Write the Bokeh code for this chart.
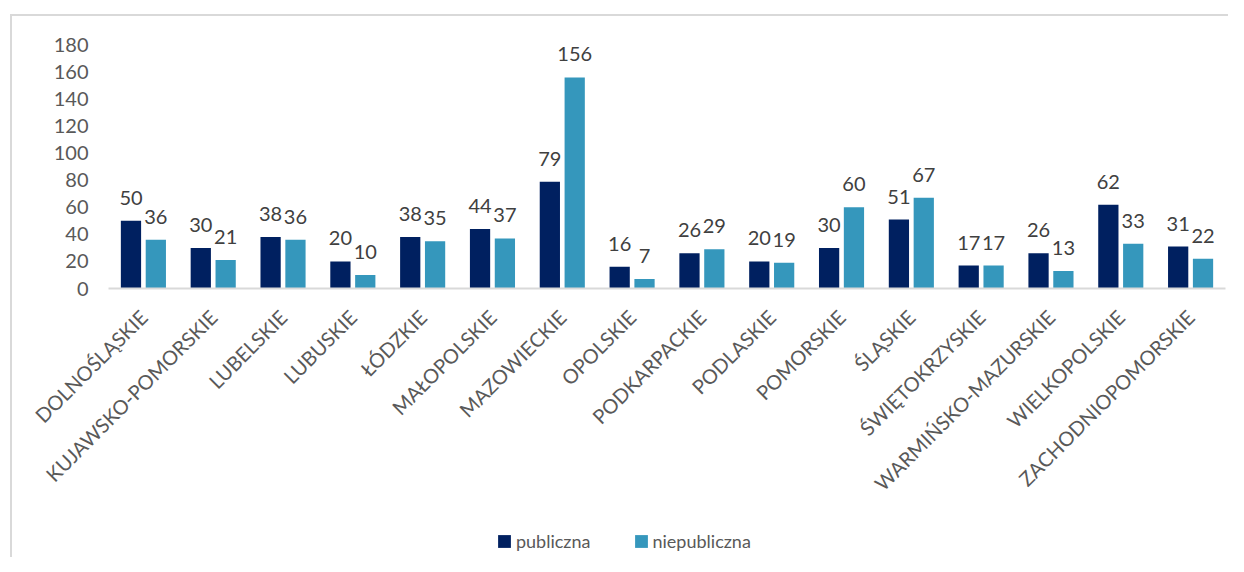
import math
from bokeh.plotting import figure
from bokeh.layouts import column, row
from bokeh.models import (ColumnDataSource, Range1d, FactorRange, Legend, LegendItem,
                          FixedTicker, Spacer)
from bokeh.transform import dodge
from bokeh.core.properties import value
from bokeh.embed import file_html
from bokeh.resources import INLINE

regions = ["DOLNOŚLĄSKIE", "KUJAWSKO-POMORSKIE", "LUBELSKIE", "LUBUSKIE", "ŁÓDZKIE",
           "MAŁOPOLSKIE", "MAZOWIECKIE", "OPOLSKIE", "PODKARPACKIE", "PODLASKIE",
           "POMORSKIE", "ŚLĄSKIE", "ŚWIĘTOKRZYSKIE", "WARMIŃSKO-MAZURSKIE",
           "WIELKOPOLSKIE", "ZACHODNIOPOMORSKIE"]
publiczna = [50, 30, 38, 20, 38, 44, 79, 16, 26, 20, 30, 51, 17, 26, 62, 31]
niepubliczna = [36, 21, 36, 10, 35, 37, 156, 7, 29, 19, 60, 67, 17, 13, 33, 22]
series_names = ["publiczna", "niepubliczna"]
y_ticks = [0, 20, 40, 60, 80, 100, 120, 140, 160, 180]

DARK = "#002060"
LIGHT = "#3597BC"
FONT = "Lato"
OFF = 0.178
BW = 0.29

src = ColumnDataSource(dict(
    region=regions,
    pub=publiczna,
    niepub=niepubliczna,
    pub_lbl=[str(v) for v in publiczna],
    niepub_lbl=[str(v) for v in niepubliczna],
))

p = figure(x_range=FactorRange(*regions, range_padding=0, factor_padding=0),
           y_range=Range1d(0, 190),
           width=1216, height=497,
           output_backend="svg", toolbar_location=None,
           min_border_left=96, min_border_right=3,
           min_border_top=15, min_border_bottom=225)

r1 = p.vbar(x=dodge("region", -OFF, range=p.x_range), top="pub", width=BW,
            source=src, fill_color=DARK, line_color=None)
r2 = p.vbar(x=dodge("region", OFF, range=p.x_range), top="niepub", width=BW,
            source=src, fill_color=LIGHT, line_color=None)

p.text(x=dodge("region", -OFF, range=p.x_range), y="pub", text="pub_lbl", source=src,
       text_align="center", text_baseline="middle", y_offset=-23,
       text_font=value(FONT), text_font_size="20px", text_color="#404040")
p.text(x=dodge("region", OFF, range=p.x_range), y="niepub", text="niepub_lbl", source=src,
       text_align="center", text_baseline="middle", y_offset=-23,
       text_font=value(FONT), text_font_size="20px", text_color="#404040")

p.grid.visible = False
p.outline_line_color = None

p.yaxis.ticker = FixedTicker(ticks=y_ticks)
p.yaxis.axis_line_color = None
p.yaxis.major_tick_line_color = None
p.yaxis.minor_tick_line_color = None
p.yaxis.major_tick_out = 0
p.yaxis.major_label_standoff = 20
p.yaxis.major_label_text_font = FONT
p.yaxis.major_label_text_font_size = "20px"
p.yaxis.major_label_text_color = "#595959"

p.xaxis.axis_line_color = "#d9d9d9"
p.xaxis.axis_line_width = 2
p.xaxis.major_tick_line_color = None
p.xaxis.major_tick_out = 0
p.xaxis.major_label_standoff = 25
p.xaxis.major_label_orientation = math.pi / 4
p.xaxis.major_label_text_font = FONT
p.xaxis.major_label_text_font_size = "20px"
p.xaxis.major_label_text_color = "#595959"

# legend strip underneath the chart (its bars lie outside its visible y range)
pl = figure(width=1216, height=44, x_range=p.x_range, y_range=Range1d(1000, 1001),
            output_backend="svg", toolbar_location=None,
            x_axis_location=None, y_axis_location=None, min_border=0)
pl.grid.visible = False
pl.outline_line_color = None
k1 = pl.vbar(x=dodge("region", -OFF, range=p.x_range), top="pub", width=BW,
             source=src, fill_color=DARK, line_color=None)
k2 = pl.vbar(x=dodge("region", OFF, range=p.x_range), top="niepub", width=BW,
             source=src, fill_color=LIGHT, line_color=None)
legend = Legend(items=[LegendItem(label=series_names[0], renderers=[k1]),
                       LegendItem(label=series_names[1], renderers=[k2])],
                location=(388, 5), orientation="horizontal",
                glyph_width=16, glyph_height=16, label_standoff=4, spacing=42,
                padding=0, margin=0, border_line_color=None,
                background_fill_alpha=0,
                label_text_font=FONT, label_text_font_size="18px",
                label_text_color="#595959")
pl.add_layout(legend, "center")

inner = column(p, pl, spacing=0,
               styles={"border-left": "2px solid #d9d9d9", "border-top": "2px solid #d9d9d9"})
layout = column(Spacer(height=14, width=10),
                row(Spacer(width=10, height=10), inner, spacing=0),
                spacing=0)

open("out.html", "w").write(file_html(layout, INLINE))
